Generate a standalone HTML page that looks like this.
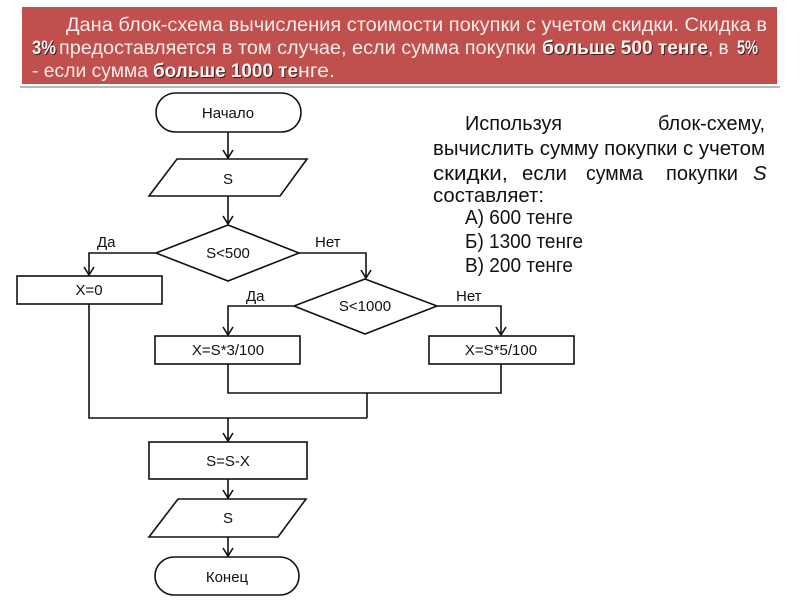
<!DOCTYPE html>
<html><head><meta charset="utf-8"><style>
html,body{margin:0;padding:0;background:#fff;width:800px;height:600px;overflow:hidden}
svg{display:block}
.h{font-family:"Liberation Sans",sans-serif;font-size:19px;fill:#f7ecea}
.hb{font-family:"Liberation Sans",sans-serif;font-size:19px;font-weight:bold;fill:#fbf6f4}
.hs{font-family:"Liberation Sans",sans-serif;font-size:19px;font-weight:bold;fill:#3a2020}
.f{font-family:"Liberation Sans",sans-serif;font-size:15px;fill:#111}
.r{font-family:"Liberation Sans",sans-serif;font-size:20.5px;fill:#111}
.ln{fill:none;stroke:#111;stroke-width:1.6}
</style></head><body>
<svg width="800" height="600" viewBox="0 0 800 600" xmlns="http://www.w3.org/2000/svg">
<!-- header -->
<rect x="20" y="86" width="760" height="2" fill="#b8b8b8"/>
<rect x="22" y="7" width="755" height="77" fill="#c0504d"/>
<text class="h" x="66" y="31" textLength="701" lengthAdjust="spacingAndGlyphs">Дана блок-схема вычисления стоимости покупки с учетом скидки. Скидка в</text>
<text class="hs" x="33" y="55" textLength="24" lengthAdjust="spacingAndGlyphs">3%</text>
<text class="hb" x="32" y="54" textLength="24" lengthAdjust="spacingAndGlyphs">3%</text>
<text class="h" x="59" y="54" textLength="477" lengthAdjust="spacingAndGlyphs">предоставляется в том случае, если сумма покупки</text>
<text class="hs" x="543" y="55" textLength="166" lengthAdjust="spacingAndGlyphs">больше 500 тенге</text>
<text class="hb" x="542" y="54" textLength="166" lengthAdjust="spacingAndGlyphs">больше 500 тенге</text>
<text class="h" x="708" y="54">, в</text>
<text class="hs" x="738" y="55" textLength="21" lengthAdjust="spacingAndGlyphs">5%</text>
<text class="hb" x="737" y="54" textLength="21" lengthAdjust="spacingAndGlyphs">5%</text>
<text class="h" x="32" y="77" textLength="116" lengthAdjust="spacingAndGlyphs">- если сумма</text>
<text class="hs" x="154" y="78" textLength="145" lengthAdjust="spacingAndGlyphs">больше 1000 те</text>
<text class="hb" x="153" y="77" textLength="145" lengthAdjust="spacingAndGlyphs">больше 1000 те</text>
<text class="h" x="298" y="77" textLength="37" lengthAdjust="spacingAndGlyphs">нге.</text>

<!-- right text -->
<text class="r" x="465" y="130" textLength="97" lengthAdjust="spacingAndGlyphs">Используя</text>
<text class="r" x="658" y="130" textLength="107" lengthAdjust="spacingAndGlyphs">блок-схему,</text>
<text class="r" x="433" y="155" textLength="332" lengthAdjust="spacingAndGlyphs">вычислить сумму покупки с учетом</text>
<text class="r" x="433" y="180" textLength="75" lengthAdjust="spacingAndGlyphs">скидки,</text>
<text class="r" x="522" y="180" textLength="45" lengthAdjust="spacingAndGlyphs">если</text>
<text class="r" x="586" y="180" textLength="57" lengthAdjust="spacingAndGlyphs">сумма</text>
<text class="r" x="666" y="180" textLength="72" lengthAdjust="spacingAndGlyphs">покупки</text>
<text class="r" x="753" y="180" font-style="italic">S</text>
<text class="r" x="433" y="202" textLength="111" lengthAdjust="spacingAndGlyphs">составляет:</text>
<text class="r" x="465" y="224" textLength="108" lengthAdjust="spacingAndGlyphs">А) 600 тенге</text>
<text class="r" x="465" y="248" textLength="118" lengthAdjust="spacingAndGlyphs">Б) 1300 тенге</text>
<text class="r" x="465" y="272" textLength="108" lengthAdjust="spacingAndGlyphs">В) 200 тенге</text>

<!-- flowchart shapes -->
<g class="ln">
<rect x="156" y="93" width="145" height="39" rx="19.5"/>
<polygon points="177,159 307,159 280,196 149,196"/>
<polygon points="228,225 299,253 228,281 156,253"/>
<rect x="17" y="276" width="145" height="28"/>
<polygon points="365,279 437,306 365,334 294,306"/>
<rect x="155" y="336" width="145" height="28"/>
<rect x="429" y="336" width="145" height="28"/>
<rect x="149" y="442" width="158" height="37"/>
<polygon points="178,499 306,499 278,537 149,537"/>
<rect x="155" y="557" width="144" height="38" rx="19"/>

<!-- connectors -->
<line x1="228" y1="132" x2="228" y2="158"/>
<line x1="228" y1="196" x2="228" y2="224"/>
<polyline points="156,253 89,253 89,275"/>
<polyline points="299,253 366,253 366,278"/>
<polyline points="294,306 228,306 228,335"/>
<polyline points="437,306 501,306 501,335"/>
<polyline points="228,364 228,393 501,393 501,364"/>
<line x1="367" y1="393" x2="367" y2="418"/>
<polyline points="89,304 89,418 367,418"/>
<line x1="228" y1="418" x2="228" y2="441"/>
<line x1="228" y1="479" x2="228" y2="498"/>
<line x1="228" y1="537" x2="228" y2="556"/>

<!-- arrowheads -->
<polyline points="223,150 228,158 233,150"/>
<polyline points="223,216 228,224 233,216"/>
<polyline points="84,267 89,275 94,267"/>
<polyline points="361,270 366,278 371,270"/>
<polyline points="223,327 228,335 233,327"/>
<polyline points="496,327 501,335 506,327"/>
<polyline points="223,433 228,441 233,433"/>
<polyline points="223,490 228,498 233,490"/>
<polyline points="223,548 228,556 233,548"/>
</g>

<!-- flowchart labels -->
<text class="f" x="228" y="118" text-anchor="middle">Начало</text>
<text class="f" x="228" y="184" text-anchor="middle">S</text>
<text class="f" x="228" y="258" text-anchor="middle">S&lt;500</text>
<text class="f" x="97" y="247">Да</text>
<text class="f" x="315" y="247">Нет</text>
<text class="f" x="89" y="295" text-anchor="middle">X=0</text>
<text class="f" x="365" y="311" text-anchor="middle">S&lt;1000</text>
<text class="f" x="246" y="301">Да</text>
<text class="f" x="456" y="301">Нет</text>
<text class="f" x="228" y="355" text-anchor="middle">X=S*3/100</text>
<text class="f" x="501" y="355" text-anchor="middle">X=S*5/100</text>
<text class="f" x="228" y="466" text-anchor="middle">S=S-X</text>
<text class="f" x="228" y="523" text-anchor="middle">S</text>
<text class="f" x="227" y="582" text-anchor="middle">Конец</text>
</svg>
</body></html>
